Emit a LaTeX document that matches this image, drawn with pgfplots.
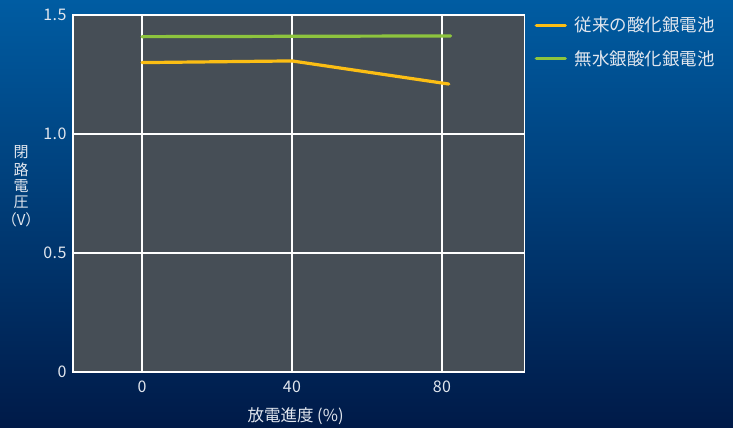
\documentclass[border=0pt]{standalone}
\usepackage{pgfplots}
\pgfplotsset{compat=1.18}
\usepackage{fontspec}
\setmainfont{Noto Sans CJK JP}
\definecolor{bgtop}{RGB}{0,92,162}
\definecolor{bgbot}{RGB}{0,26,72}
\definecolor{plotbg}{RGB}{70,78,86}
\definecolor{txt}{RGB}{225,230,238}
\definecolor{orangeL}{RGB}{252,190,20}
\definecolor{greenL}{RGB}{141,196,62}
\begin{document}
\begin{tikzpicture}
\shade[top color=bgtop, bottom color=bgbot] (0,0) rectangle (733pt,428pt);
\useasboundingbox (0,0) rectangle (733pt,428pt);
\begin{axis}[
  at={(73pt,56pt)}, anchor=south west,
  scale only axis, width=451.5pt, height=357pt,
  xmin=-18.4, xmax=102, ymin=0, ymax=1.5,
  xtick={0,40,80}, ytick={0,0.5,1.0,1.5},
  yticklabels={0,0.5,1.0,1.5},
  major tick length=0pt,
  axis background/.style={fill=plotbg},
  axis line style={white, line width=1.6pt},
  grid=major, major grid style={white, line width=1.6pt},
  tick label style={font=\fontsize{16}{18}\selectfont\addfontfeatures{LetterSpace=3}, text=txt},
  /pgf/number format/assume math mode=true,
  xticklabel style={yshift=-5pt},
  yticklabel style={xshift=-3pt},
  xlabel={放電進度 (\%)},
  xlabel style={font=\fontsize{16.5}{18}\selectfont, text=txt, at={(axis description cs:0.493,0)}, anchor=north, yshift=-32pt},
  ylabel={\shortstack{閉\\[0.5pt]路\\[0.5pt]電\\[0.5pt]圧\\[0.5pt]（V）}},
  ylabel style={font=\fontsize{15}{16.5}\selectfont, text=txt, rotate=-90, at={(axis description cs:-0.115,0.52)}, anchor=center},
  legend style={at={(axis description cs:1,1)}, anchor=north west, xshift=7pt, yshift=2pt,
    draw=none, fill=none, text=txt, font=\fontsize{17.5}{19}\selectfont,
    row sep=13pt, column sep=6pt, legend cell align=left},
  legend image code/.code={\draw[#1, line width=3.2pt] (0pt,0pt) -- (29pt,0pt);},
  clip=false,
]
\addplot[orangeL, line width=3.2pt, line cap=round, line join=round] coordinates {(0,1.30) (40,1.307) (81.8,1.21)};
\addlegendentry{従来の酸化銀電池}
\addplot[greenL, line width=3.2pt, line cap=round] coordinates {(0,1.409) (82.3,1.412)};
\addlegendentry{無水銀酸化銀電池}
\end{axis}
\end{tikzpicture}
\end{document}
